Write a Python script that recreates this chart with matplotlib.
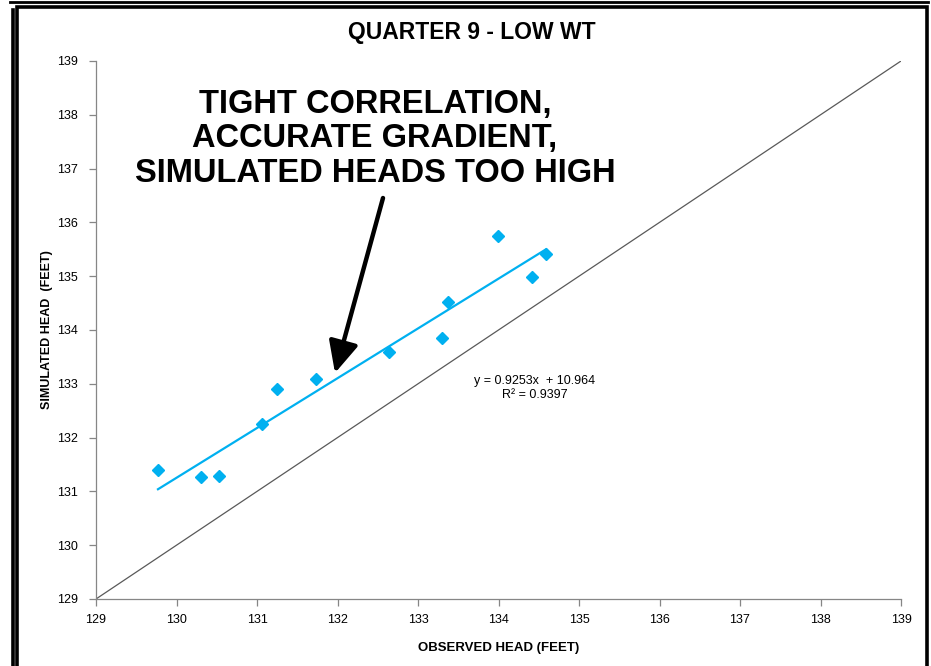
import matplotlib
matplotlib.use('Agg')
import matplotlib.pyplot as plt
import numpy as np
from matplotlib.patches import Rectangle
from matplotlib.lines import Line2D

plt.rcParams['font.family'] = ['Liberation Sans', 'DejaVu Sans']

# observed vs simulated heads (feet)
observed = [129.77, 130.30, 130.53, 131.06, 131.25, 131.73, 132.64, 133.30, 133.37, 133.99, 134.42, 134.59]
simulated = [131.40, 131.27, 131.29, 132.25, 132.90, 133.09, 133.59, 133.85, 134.52, 135.75, 134.99, 135.41]
slope, intercept, r2 = 0.9253, 10.964, 0.9397
ticks = list(range(129, 140))

blue = '#00B0F0'
gray = '#868686'

fig = plt.figure(figsize=(9.31, 6.66), dpi=100)
ax = fig.add_axes([96/931, 67/666, 805/931, 538/666])

# 1:1 line
ax.plot([129, 139], [129, 139], color='#595959', lw=0.9, zorder=1)

# trend line over the range of the data
xs = np.array([min(observed), max(observed)])
ax.plot(xs, slope * xs + intercept, color=blue, lw=1.6, zorder=2)
ax.plot(observed, simulated, 'D', color=blue, ms=6, mec=blue, zorder=3)

ax.set_xlim(129, 139)
ax.set_ylim(129, 139)
ax.set_xticks(ticks)
ax.set_yticks(ticks)
for s in ['top', 'right']:
    ax.spines[s].set_visible(False)
for s in ['left', 'bottom']:
    ax.spines[s].set_color(gray)
    ax.spines[s].set_linewidth(0.9)
ax.tick_params(direction='out', length=5, width=0.9, color=gray, labelsize=9)
ax.tick_params(axis='x', pad=6)
ax.tick_params(axis='y', pad=8)

ax.set_xlabel('OBSERVED HEAD (FEET)', fontsize=9.5, fontweight='bold', labelpad=11)
ax.set_ylabel('SIMULATED HEAD  (FEET)', fontsize=9, fontweight='bold', labelpad=3)

fig.text(472/931, 1 - 32/666, 'QUARTER 9 - LOW WT', ha='center', va='center',
         fontsize=16.5, fontweight='bold')

fig.text(535/931, 1 - 388/666, 'y = %.4fx  + %.3f\nR² = %.4f' % (slope, intercept, r2),
         ha='center', va='center', fontsize=9, linespacing=1.15)

fig.text(375/931, 1 - 139/666, 'TIGHT CORRELATION,\nACCURATE GRADIENT,\nSIMULATED HEADS TOO HIGH',
         ha='center', va='center', fontsize=23.5, fontweight='bold', linespacing=1.16)

ax.annotate('', xy=(335/931, 1 - 373/666), xycoords='figure fraction',
            xytext=(383/931, 1 - 198/666), textcoords='figure fraction',
            arrowprops=dict(arrowstyle='-|>,head_length=1.9,head_width=0.9',
                            color='black', lw=3.2, shrinkA=0, shrinkB=0))

# outer frame lines
W, H = 931, 666
fig.patches.append(Rectangle((17/W, -0.02), 910/W, 1 - 7/H + 0.02, transform=fig.transFigure,
                             fill=False, ec='black', lw=2.6))
fig.lines.append(Line2D([13/W, 13/W], [0, 1 - 10/H], transform=fig.transFigure, color='black', lw=2.6))
fig.lines.append(Line2D([10/W, 928/W], [1 - 1.5/H, 1 - 1.5/H], transform=fig.transFigure, color='black', lw=2))

fig.savefig('out.png', dpi=100)
